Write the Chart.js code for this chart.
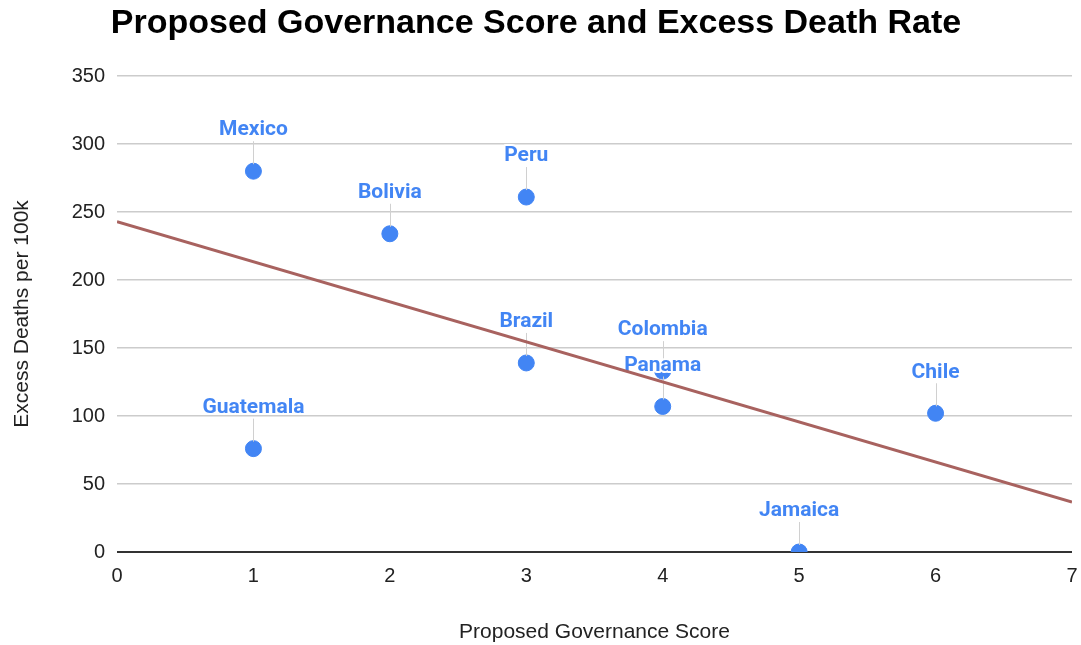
<!DOCTYPE html>
<html><head><meta charset="utf-8">
<script src="https://cdn.jsdelivr.net/npm/chart.js@4/dist/chart.umd.min.js"></script>
<style>html,body{margin:0;padding:0;background:#fff}#wrap{width:1081px;height:645px}</style>
</head><body><div id="wrap"><canvas id="c" width="1081" height="645"></canvas></div>
<script>
const countries = ["Mexico","Bolivia","Peru","Brazil","Colombia","Panama","Chile","Guatemala","Jamaica"];
const governanceScore = [1,2,3,3,4,4,6,1,5];
const excessDeaths = [280,234,261,139,133,107,102,76,0];
const trendX = [0,7];
const trendY = [242.8,36.8];
const yTicks = [0,50,100,150,200,250,300,350];
const xTicks = [0,1,2,3,4,5,6,7];

const pointData = countries.map((c,i)=>({x:governanceScore[i], y:excessDeaths[i], label:c}));
const trendData = trendX.map((x,i)=>({x:x, y:trendY[i]}));

const labelPlugin = {
  id:'pointLabels',
  afterDatasetDraw(chart, args){
    if(args.index !== 0) return;
    const ctx = chart.ctx;
    const meta = chart.getDatasetMeta(0);
    ctx.save();
    meta.data.forEach((pt,i)=>{
      const ly = pt.y - 41;
      ctx.strokeStyle = '#d0d0d0';
      ctx.lineWidth = 1;
      ctx.beginPath();
      ctx.moveTo(Math.round(pt.x)+0.5, ly + 11);
      ctx.lineTo(Math.round(pt.x)+0.5, pt.y - 7);
      ctx.stroke();
      ctx.font = 'bold 21px Roboto';
      ctx.textAlign = 'center';
      ctx.textBaseline = 'middle';
      ctx.lineWidth = 4;
      ctx.strokeStyle = '#ffffff';
      ctx.lineJoin = 'round';
      ctx.strokeText(countries[i], pt.x, ly);
      ctx.fillStyle = '#4285F4';
      ctx.fillText(countries[i], pt.x, ly);
    });
    ctx.restore();
  }
};

const F = "'Liberation Sans', Arial, sans-serif";
new Chart(document.getElementById('c'), {
  type:'scatter',
  data:{datasets:[
    {data:pointData, backgroundColor:'#4285F4', borderColor:'#4285F4', pointRadius:8, pointHoverRadius:8, order:2},
    {type:'line', data:trendData, borderColor:'#A8625F', borderWidth:3, pointRadius:0, fill:false, tension:0, order:1}
  ]},
  options:{
    responsive:false, animation:false,
    layout:{padding:{left:0,right:9,top:0,bottom:0}},
    plugins:{
      legend:{display:false}, tooltip:{enabled:false},
      title:{display:true, text:'Proposed Governance Score and Excess Death Rate', color:'#000',
        font:{family:F, size:34, weight:'bold'}, padding:{top:3,bottom:32.2}}
    },
    scales:{
      x:{type:'linear', min:0, max:7,
        afterBuildTicks(s){ s.ticks = xTicks.map(v=>({value:v})); },
        afterFit(s){ s.height = 93; s.paddingRight = 0; s.paddingLeft = 0; },
        grid:{display:false, drawTicks:false},
        border:{display:false},
        ticks:{color:'#222', font:{family:F, size:20}, padding:12},
        title:{display:true, text:'Proposed Governance Score', color:'#222', font:{family:F, size:21}, padding:{top:20,bottom:0}}
      },
      y:{type:'linear', min:0, max:350,
        afterBuildTicks(s){ s.ticks = yTicks.map(v=>({value:v})); },
        afterFit(s){ s.width = 117; },
        grid:{color:(c)=> c.tick && c.tick.value===0 ? '#333333' : '#cccccc', lineWidth:(c)=> c.tick && c.tick.value===0 ? 2 : 1.5, drawTicks:false},
        border:{display:false},
        ticks:{color:'#222', font:{family:F, size:20}, padding:12},
        title:{display:true, text:'Excess Deaths per 100k', color:'#222', font:{family:F, size:21}, padding:{top:10,bottom:0}}
      }
    }
  },
  plugins:[labelPlugin]
});
</script></body></html>
